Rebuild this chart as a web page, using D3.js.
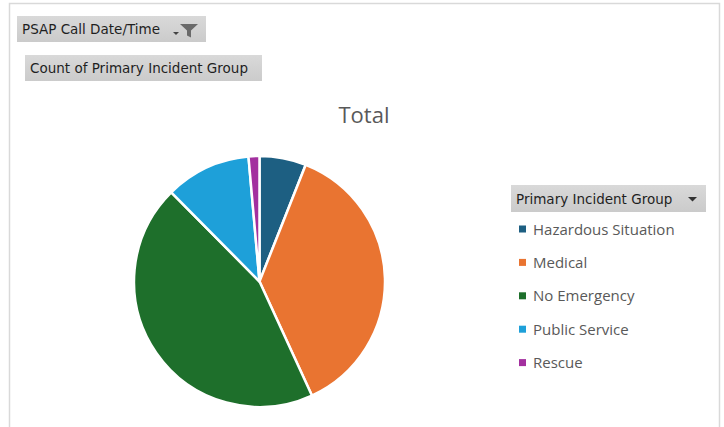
<!DOCTYPE html>
<html>
<head>
<meta charset="utf-8">
<script src="https://cdn.jsdelivr.net/npm/d3@7"></script>
<style>
  html, body { margin: 0; padding: 0; background: #fff; }
  svg { display: block; }
</style>
</head>
<body>
<svg id="chart" width="724" height="427"></svg>
<script>
// Incident groups and their call counts
const categories = ["Hazardous Situation", "Medical", "No Emergency", "Public Service", "Rescue"];
const counts = [60, 371, 444, 110, 14];
const colors = ["#1d5f82", "#e97431", "#1e6f2b", "#1ea0d9", "#a3309f"];
const chartTitle = "Total";
const filterLabel = "PSAP Call Date/Time";
const valueLabel = "Count of Primary Incident Group";
const legendLabel = "Primary Incident Group";

const svg = d3.select("#chart");
const font = "Tahoma, 'DejaVu Sans', sans-serif";

// Chart area frame
svg.append("rect")
  .attr("x", 9.5).attr("y", 3.5)
  .attr("width", 710).attr("height", 440)
  .attr("fill", "#fff").attr("stroke", "#d9d9d9").attr("stroke-width", 1.5);

// Gray field button gradient
const defs = svg.append("defs");
const grad = defs.append("linearGradient").attr("id", "btn").attr("x1", 0).attr("y1", 0).attr("x2", 0).attr("y2", 1);
grad.append("stop").attr("offset", "0%").attr("stop-color", "#d9d9d9");
grad.append("stop").attr("offset", "100%").attr("stop-color", "#cbcbcb");

function button(x, y, w, h, label) {
  const g = svg.append("g").attr("transform", `translate(${x},${y})`);
  g.append("rect").attr("width", w).attr("height", h).attr("fill", "url(#btn)");
  g.append("text").attr("x", 5).attr("y", h / 2 + 5)
    .attr("font-family", font).attr("font-size", 13.5).attr("fill", "#1f1f1f")
    .text(label);
  return g;
}

// Filter button with dropdown arrow and funnel icon
const b1 = button(17, 16, 189, 26, filterLabel);
b1.append("path").attr("d", "M156,16 h6 l-3,3 z").attr("fill", "#444");
b1.append("path").attr("d", "M163,8 h18 l-7,6.5 v7 l-4,-2 v-5 z").attr("fill", "#6a6a6a");

// Value field button
button(25, 55, 237, 26, valueLabel);

// Legend header button with dropdown arrow
const b3 = button(511, 185, 195, 27, legendLabel);
b3.append("path").attr("d", "M177,12 h9 l-4.5,4.5 z").attr("fill", "#333");

// Title
svg.append("text")
  .attr("x", 364).attr("y", 123).attr("text-anchor", "middle")
  .attr("font-family", "'Open Sans', 'Noto Sans', sans-serif").attr("font-size", 22)
  .attr("fill", "#595959").text(chartTitle);

// Pie
const cx = 259.5, cy = 281.5, r = 125.5;
const pie = d3.pie().sort(null).value(d => d.value);
const arc = d3.arc().innerRadius(0).outerRadius(r);
const data = categories.map((c, i) => ({ name: c, value: counts[i], color: colors[i] }));

svg.append("g").attr("transform", `translate(${cx},${cy})`)
  .selectAll("path").data(pie(data)).join("path")
  .attr("d", arc)
  .attr("fill", d => d.data.color)
  .attr("stroke", "#fff").attr("stroke-width", 2.5).attr("stroke-linejoin", "round");

// Legend
const legend = svg.append("g").attr("transform", "translate(519,229)");
const rows = legend.selectAll("g").data(data).join("g")
  .attr("transform", (d, i) => `translate(0,${i * 33.4})`);
rows.append("rect").attr("x", 0).attr("y", -3.5).attr("width", 7).attr("height", 7).attr("fill", d => d.color);
rows.append("text").attr("x", 14).attr("y", 5.5)
  .attr("font-family", "'Open Sans', 'Noto Sans', sans-serif").attr("font-size", 15)
  .attr("fill", "#595959").text(d => d.name);
</script>
</body>
</html>
